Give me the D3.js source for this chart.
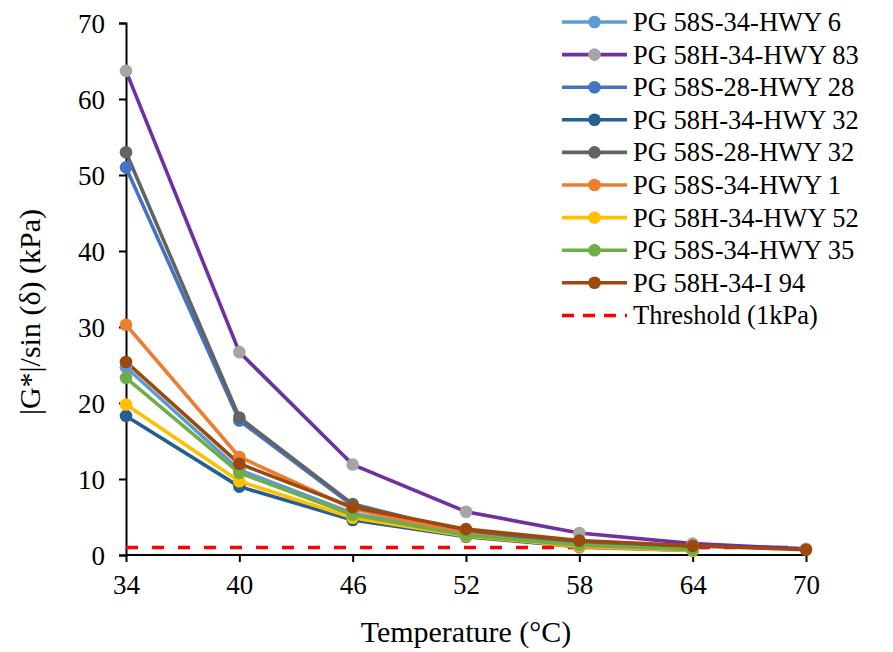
<!DOCTYPE html>
<html><head><meta charset="utf-8">
<script src="https://cdn.jsdelivr.net/npm/d3@7"></script>
<style>body{margin:0;background:#fff}svg{display:block}text{font-family:"Liberation Serif","Times New Roman",serif}</style>
</head><body><svg id="c" width="893" height="652"></svg>
<script>
const temps = [34, 40, 46, 52, 58, 64, 70];
const yTicks = [0, 10, 20, 30, 40, 50, 60, 70];
const seriesNames = ["PG 58S-34-HWY 6","PG 58H-34-HWY 83","PG 58S-28-HWY 28","PG 58H-34-HWY 32","PG 58S-28-HWY 32","PG 58S-34-HWY 1","PG 58H-34-HWY 52","PG 58S-34-HWY 35","PG 58H-34-I 94"];
const hwy6   = [24.7, 11.2, 5.5, 2.7, 1.3, 0.7];
const hwy83  = [63.7, 26.7, 11.9, 5.7, 2.9, 1.5, 0.8];
const hwy28  = [51.0, 17.7, 6.5, 2.9, 1.4, 0.7];
const hwy32h = [18.3, 9.0, 4.6, 2.4, 1.1, 0.6];
const hwy32s = [53.0, 18.1, 6.7, 3.0, 1.5, 0.8];
const hwy1   = [30.3, 12.9, 6.1, 2.8, 1.0, 0.6];
const hwy52  = [19.8, 9.7, 4.9, 2.5, 1.2, 0.6];
const hwy35  = [23.3, 10.8, 5.3, 2.6, 1.3, 0.7];
const i94    = [25.4, 12.0, 6.3, 3.4, 1.9, 1.2, 0.7];
const threshold = [1, 1, 1, 1, 1, 1, 1];
const lineColors = ["#5B9BD5","#7030A0","#4472C4","#255E91","#636363","#ED7D31","#FFC000","#70AD47","#9E480E"];
const markerColors = ["#5B9BD5","#A5A5A5","#4472C4","#255E91","#636363","#ED7D31","#FFC000","#70AD47","#9E480E"];
const seriesValues = [hwy6, hwy83, hwy28, hwy32h, hwy32s, hwy1, hwy52, hwy35, i94];

const svg = d3.select("#c");
const x = d3.scalePoint().domain(temps).range([126, 806]);
const y = d3.scaleLinear().domain([0, 70]).range([555, 23]);

// axes
const xAxis = svg.append("g").attr("transform","translate(0,555)")
  .call(d3.axisBottom(x).tickSize(7).tickPadding(13));
const yAxis = svg.append("g").attr("transform","translate(126,0)")
  .call(d3.axisLeft(y).tickValues(yTicks).tickSize(7).tickPadding(14));
[xAxis, yAxis].forEach(g => {
  g.select(".domain").attr("stroke","#000").attr("stroke-width",2);
  g.selectAll(".tick line").attr("stroke","#000").attr("stroke-width",2);
  g.selectAll("text").attr("fill","#000").style("font-size","27px").style("font-family","'Liberation Serif',serif");
});
yAxis.selectAll("text").attr("dy","0.34em");
xAxis.select(".domain").attr("d","M126,0H806");

// threshold
const line = d3.line().x((d,i)=>x(temps[i])).y(d=>y(d));
svg.append("path").attr("d", line(threshold)).attr("fill","none")
  .attr("stroke","#FF0000").attr("stroke-width",3.5).attr("stroke-dasharray","12,14");

seriesValues.forEach((vals, k) => {
  svg.append("path").attr("d", line(vals)).attr("fill","none")
    .attr("stroke", lineColors[k]).attr("stroke-width",3.6).attr("stroke-linejoin","round");
});
seriesValues.forEach((vals, k) => {
  svg.append("g").selectAll("circle").data(vals).join("circle")
    .attr("cx",(d,i)=>x(temps[i])).attr("cy",d=>y(d)).attr("r",6.3)
    .attr("fill", markerColors[k]);
});

// axis titles
svg.append("text").attr("x",466).attr("y",642).attr("text-anchor","middle")
  .style("font-size","30px").text("Temperature (°C)");
svg.append("text").attr("transform","translate(40,312) rotate(-90)").attr("text-anchor","middle")
  .style("font-size","30px").text("|G*|/sin (δ) (kPa)");

// legend
const legendNames = seriesNames.concat(["Threshold (1kPa)"]);
const lg = svg.append("g");
legendNames.forEach((name, k) => {
  const yy = 22 + k * 32.6;
  if (k < 9) {
    lg.append("line").attr("x1",562).attr("x2",627).attr("y1",yy).attr("y2",yy)
      .attr("stroke", lineColors[k]).attr("stroke-width",3.6);
    lg.append("circle").attr("cx",594.5).attr("cy",yy).attr("r",6.3).attr("fill",markerColors[k]);
  } else {
    lg.append("line").attr("x1",562).attr("x2",627).attr("y1",yy).attr("y2",yy)
      .attr("stroke","#FF0000").attr("stroke-width",3.5).attr("stroke-dasharray","12,9");
  }
  lg.append("text").attr("x",633).attr("y",yy+9).style("font-size","26.5px").attr("fill","#000").text(name);
});
</script></body></html>
